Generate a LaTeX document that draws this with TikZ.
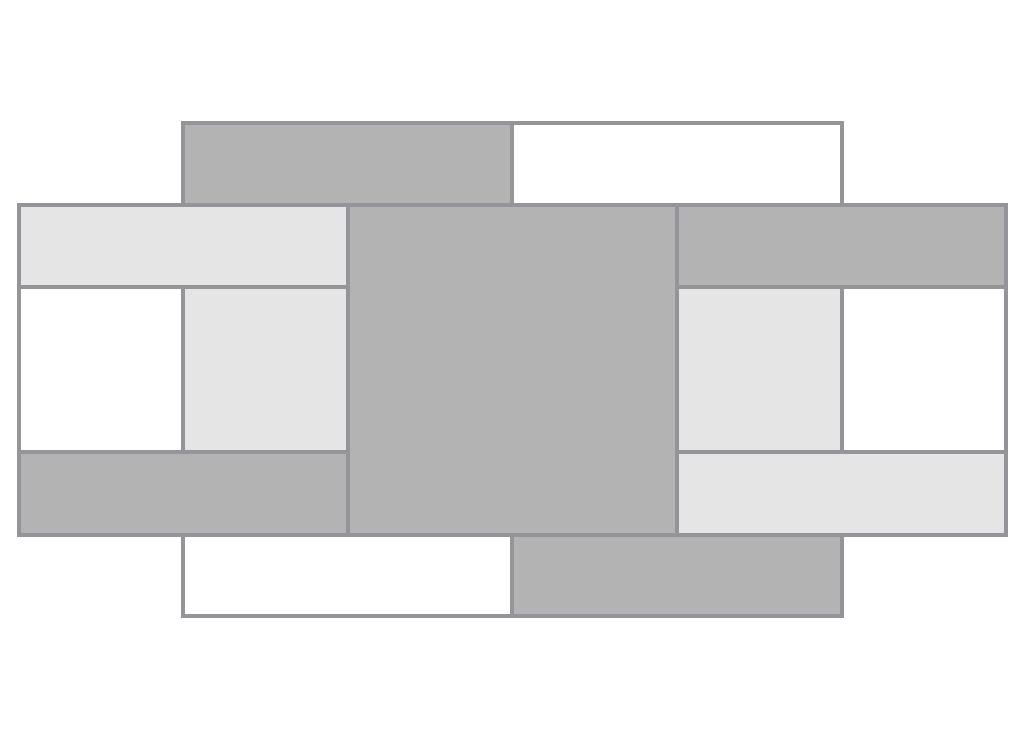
\documentclass[tikz,border=0pt]{standalone}
\definecolor{edgegray}{HTML}{939598}
\definecolor{darkfill}{HTML}{B3B3B3}
\definecolor{lightfill}{HTML}{E5E5E5}
\tikzset{
  panel/.style={draw=edgegray, line width=3.5pt, line join=miter},
  darkpanel/.style={panel, fill=darkfill},
  lightpanel/.style={panel, fill=lightfill},
  whitepanel/.style={panel, fill=white}
}
\begin{document}
\begin{tikzpicture}[x=1pt,y=-1pt]
\useasboundingbox[fill=white] (0,0) rectangle (1024,738);
% top row
\draw[darkpanel] (183,123) rectangle (512,205);
\draw[whitepanel] (512,123) rectangle (842,205);
% bottom row
\draw[whitepanel] (183,535) rectangle (512,616);
\draw[darkpanel] (512,535) rectangle (842,616);
% left block
\draw[lightpanel] (19,205) rectangle (348,287);
\draw[whitepanel] (19,287) rectangle (183,452);
\draw[lightpanel] (183,287) rectangle (348,452);
\draw[darkpanel] (19,452) rectangle (348,535);
% right block
\draw[darkpanel] (677,205) rectangle (1006,287);
\draw[lightpanel] (677,287) rectangle (842,452);
\draw[whitepanel] (842,287) rectangle (1006,452);
\draw[lightpanel] (677,452) rectangle (1006,535);
% centre
\draw[darkpanel] (348,205) rectangle (677,535);
\end{tikzpicture}
\end{document}
